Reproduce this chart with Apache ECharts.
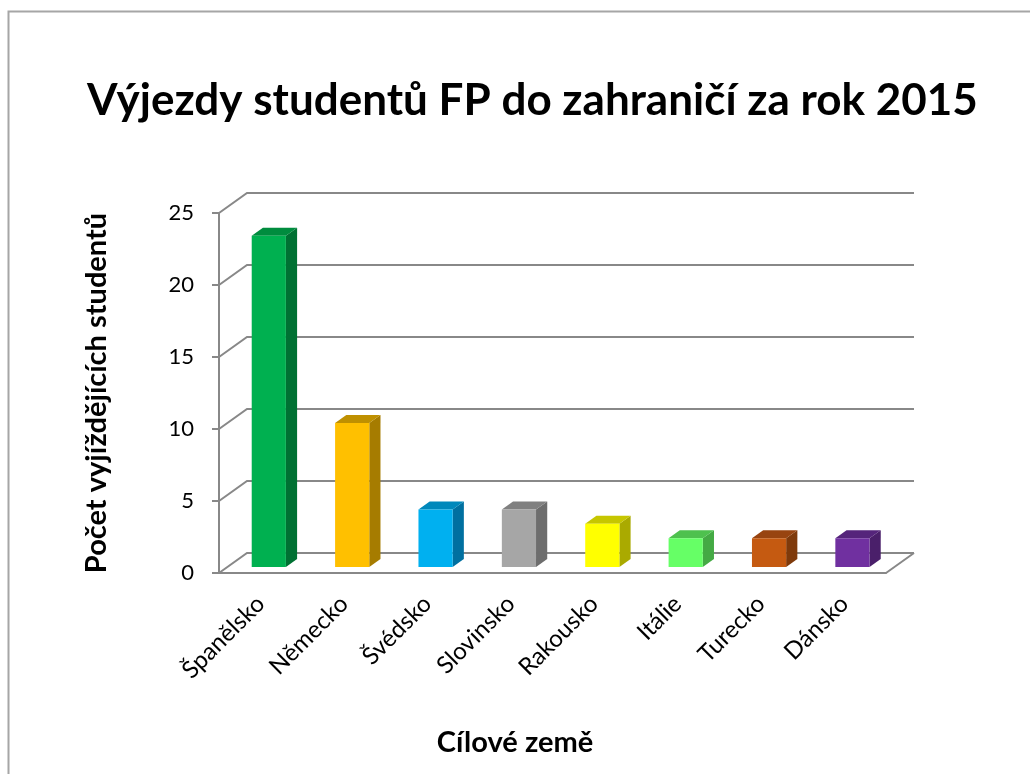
<!DOCTYPE html>
<html>
<head>
<meta charset="utf-8">
<script src="https://cdn.jsdelivr.net/npm/echarts@6/dist/echarts.min.js"></script>
<style>
  html, body { margin: 0; padding: 0; background: #fff; }
  #chart { width: 1030px; height: 774px; }
</style>
</head>
<body>
<div id="chart"></div>
<script>
// data
var countries = ['Španělsko', 'Německo', 'Švédsko', 'Slovinsko', 'Rakousko', 'Itálie', 'Turecko', 'Dánsko'];
var students = [23, 10, 4, 4, 3, 2, 2, 2];
var yTicks = [0, 5, 10, 15, 20, 25];

// barvy: přední stěna, boční stěna, horní stěna
var faceColors = ['#00B050', '#FFC000', '#00B0F0', '#A6A6A6', '#FFFF00', '#66FF66', '#C55A11', '#7030A0'];
var sideColors = ['#007133', '#A67C00', '#0070A0', '#6D6D6D', '#AAAA00', '#44AA44', '#7F3A0B', '#4A1F6A'];
var topColors  = ['#008C3E', '#BF9000', '#0088BB', '#808080', '#C6C600', '#4EC14E', '#984410', '#55247B'];

var DX = 28, DY = 20;          // hloubka 3D stěn
var GRID_COLOR = '#888888';

var chart = echarts.init(document.getElementById('chart'));

// vykreslení sloupce jako kvádru
function renderBar(params, api) {
    var i = api.value(0);
    var v = api.value(1);
    var band = api.size([1, 0])[0];
    var base = api.coord([i, 0]);
    var top = api.coord([i, v]);
    var w = band * 0.41;
    var ox = DX * 0.29, oy = DY * 0.3;     // posun do hloubky
    var dx = DX * 0.4, dy = DY * 0.4;      // hloubka sloupce
    var x0 = base[0] - w / 2 + ox;
    var x1 = x0 + w;
    var yb = base[1] - oy;
    var yt = top[1] - oy;
    return {
        type: 'group',
        children: [
            { type: 'polygon', shape: { points: [[x1, yt], [x1 + dx, yt - dy], [x1 + dx, yb - dy], [x1, yb]] },
              style: { fill: sideColors[i] } },
            { type: 'polygon', shape: { points: [[x0, yt], [x1, yt], [x1 + dx, yt - dy], [x0 + dx, yt - dy]] },
              style: { fill: topColors[i] } },
            { type: 'rect', shape: { x: x0, y: yt, width: w, height: yb - yt },
              style: { fill: faceColors[i] } }
        ]
    };
}

// mřížka na zadní a boční stěně
function renderGrid(params, api) {
    var v = api.value(1);
    var cs = params.coordSys;
    var y = api.coord([0, v])[1];
    var xl = cs.x, xr = cs.x + cs.width;
    var lineStyle = { stroke: GRID_COLOR, lineWidth: 2, fill: 'none' };
    var children = [
        { type: 'polyline', shape: { points: [[xl, y], [xl + DX, y - DY], [xr + DX, y - DY]] }, style: lineStyle }
    ];
    if (v === 0) {
        children.push({ type: 'line', shape: { x1: xr, y1: y, x2: xr + DX, y2: y - DY }, style: lineStyle });
    }
    return { type: 'group', children: children };
}

var barData = countries.map(function (c, i) { return [i, students[i]]; });
var gridData = yTicks.map(function (t) { return [0, t]; });

var option = {
    backgroundColor: '#fff',
    title: {
        text: 'Výjezdy studentů FP do zahraničí za rok 2015',
        left: 82,
        top: 74,
        textStyle: { fontFamily: 'Lato', fontWeight: 'bold', fontSize: 44, color: '#000' }
    },
    graphic: [{
        type: 'rect',
        shape: { x: 8.5, y: 11.5, width: 1100, height: 1000 },
        style: { fill: 'none', stroke: '#A6A6A6', lineWidth: 2 },
        z: -10
    }],
    grid: { left: 219, right: 144, top: 213, bottom: 201 },
    xAxis: {
        type: 'category',
        data: countries,
        name: 'Cílové země',
        nameLocation: 'middle',
        nameGap: 155,
        nameTextStyle: { fontFamily: 'Lato', fontWeight: 'bold', fontSize: 29, color: '#000', padding: [0, 75, 0, 0] },
        axisLine: { lineStyle: { color: GRID_COLOR, width: 2 } },
        axisTick: { length: 7, lineStyle: { color: GRID_COLOR, width: 2 } },
        axisLabel: { rotate: 45, fontFamily: 'Lato', fontSize: 24, color: '#000', margin: 27 }
    },
    yAxis: {
        type: 'value',
        min: 0,
        max: 25,
        interval: 5,
        name: 'Počet vyjíždějících studentů',
        nameLocation: 'middle',
        nameGap: 108,
        nameTextStyle: { fontFamily: 'Lato', fontWeight: 'bold', fontSize: 29, color: '#000' },
        axisLine: { show: true, lineStyle: { color: GRID_COLOR, width: 2 } },
        axisTick: { show: true, length: 7, lineStyle: { color: GRID_COLOR, width: 2 } },
        axisLabel: { fontFamily: 'Lato', fontSize: 22, color: '#000', margin: 25 },
        splitLine: { show: false }
    },
    series: [
        {
            type: 'custom',
            renderItem: renderGrid,
            data: gridData,
            z: 1,
            silent: true
        },
        {
            type: 'custom',
            renderItem: renderBar,
            data: barData,
            z: 3
        }
    ]
};

chart.setOption(option);
</script>
</body>
</html>
